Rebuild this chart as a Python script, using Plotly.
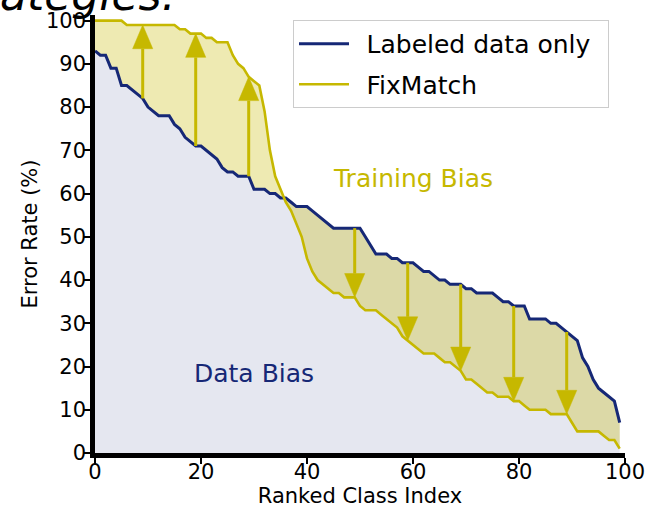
import plotly.graph_objects as go

# ---- data ----
class_index = list(range(100))

labeled_only = [93, 92, 92, 89, 89, 85, 85, 84, 83, 82,
                80, 79, 78, 78, 78, 76, 75, 73, 72, 71,
                71, 70, 69, 68, 66, 65, 65, 64, 64, 64,
                61, 61, 61, 60, 60, 59, 59, 58, 57, 57,
                57, 56, 55, 54, 53, 52, 52, 52, 52, 52,
                52, 50, 48, 46, 46, 46, 45, 45, 44, 44,
                44, 43, 42, 42, 41, 40, 40, 39, 39, 39,
                38, 38, 37, 37, 37, 37, 36, 35, 35, 34,
                34, 34, 31, 31, 31, 31, 30, 30, 29, 28,
                27, 26, 22, 20, 17, 15, 14, 13, 12, 7]

fixmatch = [100, 100, 100, 100, 100, 100, 99, 99, 99, 99,
            99, 99, 99, 99, 99, 99, 98, 98, 97, 97,
            97, 96, 96, 95, 95, 95, 92, 90, 89, 87,
            86, 85, 79, 70, 64, 61, 58, 56, 53, 50,
            45, 42, 40, 39, 38, 37, 37, 36, 36, 36,
            34, 33, 33, 33, 32, 31, 30, 29, 27, 26,
            25, 24, 23, 23, 23, 22, 21, 21, 20, 19,
            17, 17, 16, 15, 14, 14, 13, 13, 13, 12,
            12, 11, 10, 10, 10, 10, 9, 9, 9, 9,
            7, 5, 5, 5, 5, 5, 4, 3, 3, 1]

arrow_indices = [9, 19, 29, 49, 59, 69, 79, 89]

x_ticks = [0, 20, 40, 60, 80, 100]
y_ticks = [0, 10, 20, 30, 40, 50, 60, 70, 80, 90, 100]

# ---- style ----
NAVY = "rgb(22,40,118)"
YELLOW = "rgb(198,184,0)"
NAVY_FILL = "rgba(22,40,118,0.11)"
YELLOW_FILL = "rgba(198,184,0,0.30)"
HEAD_W = 3.8   # arrow head width in x units
HEAD_L = 5.5   # arrow head length in y units
FONT = "DejaVu Sans"
SP = "\u2002"

fig = go.Figure()

# fills
fig.add_trace(go.Scatter(x=class_index, y=labeled_only, mode="lines",
                         line=dict(width=0, color=NAVY), fill="tozeroy",
                         fillcolor=NAVY_FILL, showlegend=False, hoverinfo="skip"))
fig.add_trace(go.Scatter(x=class_index, y=fixmatch, mode="lines",
                         line=dict(width=0, color=YELLOW), fill="tonexty",
                         fillcolor=YELLOW_FILL, showlegend=False, hoverinfo="skip"))
# lines
fig.add_trace(go.Scatter(x=class_index, y=labeled_only, mode="lines",
                         line=dict(width=3, color=NAVY),
                         name=SP + "Labeled data only" + SP, legendgroup="a"))
fig.add_trace(go.Scatter(x=class_index, y=fixmatch, mode="lines",
                         line=dict(width=2.6, color=YELLOW),
                         name=SP + "FixMatch", legendgroup="b"))

# arrows from labeled to fixmatch
shaft_x, shaft_y, head_x, head_y = [], [], [], []
for i in arrow_indices:
    start = labeled_only[i]
    tip = fixmatch[i]
    d = 1 if tip > start else -1
    base = tip - d * HEAD_L
    shaft_x += [class_index[i], class_index[i], None]
    shaft_y += [start, base, None]
    head_x += [class_index[i] - HEAD_W / 2, class_index[i] + HEAD_W / 2, class_index[i],
               class_index[i] - HEAD_W / 2, None]
    head_y += [base, base, tip, base, None]

fig.add_trace(go.Scatter(x=shaft_x, y=shaft_y, mode="lines",
                         line=dict(width=3, color=YELLOW), showlegend=False,
                         hoverinfo="skip"))
fig.add_trace(go.Scatter(x=head_x, y=head_y, mode="lines", fill="toself",
                         fillcolor=YELLOW, line=dict(width=0.5, color=YELLOW),
                         showlegend=False, hoverinfo="skip"))

fig.add_annotation(x=60, y=63.4, xref="x", yref="y", text="Training Bias",
                   showarrow=False, font=dict(family=FONT, size=25, color=YELLOW))
fig.add_annotation(x=30, y=18.3, xref="x", yref="y", text="Data Bias",
                   showarrow=False, font=dict(family=FONT, size=25, color=NAVY))
# cropped title fragment at the top-left
fig.add_annotation(x=0, y=1, xref="paper", yref="paper", xanchor="left",
                   yanchor="bottom", xshift=-97, yshift=-7, text="ategies.",
                   showarrow=False,
                   font=dict(family=FONT, size=44, color="black", style="italic"))

axis_common = dict(showline=True, linewidth=4.5, linecolor="black", mirror=False,
                   ticks="outside", ticklen=6, tickwidth=2, tickcolor="black",
                   showgrid=False, zeroline=False,
                   tickfont=dict(family=FONT, size=21, color="black"))

fig.update_xaxes(range=[0, 100], tickvals=x_ticks, ticklabelstandoff=-10,
                 title=dict(text="Ranked Class Index", standoff=6,
                            font=dict(family=FONT, size=21, color="black")),
                 **axis_common)
fig.update_yaxes(range=[0, 101.3], tickvals=y_ticks, ticklabelstandoff=-6,
                 title=dict(text="Error Rate (%)", standoff=4,
                            font=dict(family=FONT, size=21, color="black")),
                 **axis_common)

fig.update_layout(
    width=646, height=510,
    margin=dict(l=95, r=21, t=15, b=57, autoexpand=False),
    plot_bgcolor="white", paper_bgcolor="white",
    font=dict(family=FONT),
    legend=dict(x=0.3736, y=0.9886, xanchor="left", yanchor="top",
                bgcolor="rgba(255,255,255,0.9)", bordercolor="#cccccc", borderwidth=1,
                font=dict(family=FONT, size=25, color="black"),
                itemwidth=50, tracegroupgap=5, traceorder="grouped"),
)

fig.write_html("out.html")
